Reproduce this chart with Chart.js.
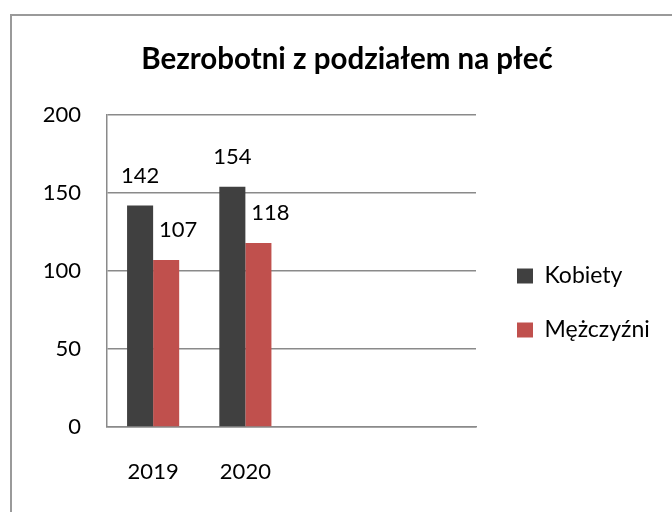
<!DOCTYPE html>
<html>
<head>
<meta charset="utf-8">
<script src="https://cdn.jsdelivr.net/npm/chart.js@4/dist/chart.umd.min.js"></script>
<style>
  html, body { margin: 0; padding: 0; background: #fff; overflow: hidden; }
  #wrap { position: relative; width: 672px; height: 512px; overflow: hidden; }
  #frame { position: absolute; left: 10px; top: 14px; width: 700px; height: 520px; border: 2px solid #9a9a9a; box-sizing: border-box; pointer-events: none; }
  canvas { position: absolute; left: 0; top: 0; }
</style>
</head>
<body>
<div id="wrap">
  <div id="frame"></div>
  <canvas id="c" width="694" height="512"></canvas>
</div>
<script>
const titleText = 'Bezrobotni z podziałem na płeć';
const categories = ['2019', '2020', '', ''];
const seriesNames = ['Kobiety', 'Mężczyźni'];
const kobiety = [142, 154, null, null];
const mezczyzni = [107, 118, null, null];
const yTicks = [0, 50, 100, 150, 200];

const FONT = 'Lato, "Open Sans", sans-serif';
const colors = ['#404040', '#C0504D'];

const dataLabels = {
  id: 'dataLabels',
  afterDatasetsDraw(chart) {
    const ctx = chart.ctx;
    ctx.save();
    ctx.font = '22px ' + FONT;
    ctx.fillStyle = '#000';
    ctx.textAlign = 'center';
    ctx.textBaseline = 'middle';
    const xOff = [0, 12];
    chart.data.datasets.forEach((ds, di) => {
      const meta = chart.getDatasetMeta(di);
      meta.data.forEach((bar, i) => {
        const v = ds.data[i];
        if (v === null || v === undefined) return;
        ctx.fillText(String(v), bar.x + xOff[di], bar.y - 30);
      });
    });
    ctx.restore();
  }
};

// legend box: fixed width so the plot area keeps the reference proportions,
// then nudged to the reference spot
const legendPlace = {
  id: 'legendPlace',
  beforeLayout(chart) {
    const lg = chart.legend;
    if (lg && !lg._fixedFit) {
      const orig = lg.fit;
      lg.fit = function () { orig.call(this); this.width = 208; };
      lg._fixedFit = true;
    }
  },
  afterLayout(chart) {
    const lg = chart.legend;
    if (!lg) return;
    const dx = 10, dy = 47;
    lg.left += dx; lg.right += dx; lg.top += dy; lg.bottom += dy;
  }
};

new Chart(document.getElementById('c'), {
  type: 'bar',
  data: {
    labels: categories,
    datasets: [
      { label: seriesNames[0], data: kobiety, backgroundColor: colors[0] },
      { label: seriesNames[1], data: mezczyzni, backgroundColor: colors[1] }
    ]
  },
  options: {
    responsive: false,
    animation: false,
    devicePixelRatio: 1,
    layout: { padding: { left: 10, right: 10, top: 0, bottom: 0 } },
    datasets: { bar: { categoryPercentage: 0.565, barPercentage: 1.0 } },
    plugins: {
      title: {
        display: true,
        text: titleText,
        color: '#000',
        font: { family: FONT, size: 29.5, weight: 'bold', lineHeight: 1.2 },
        padding: { top: 42, bottom: 37.6 }
      },
      legend: {
        display: true,
        position: 'right',
        labels: {
          color: '#000',
          font: { family: FONT, size: 23 },
          boxWidth: 16,
          boxHeight: 15,
          padding: 31
        }
      },
      tooltip: { enabled: false }
    },
    scales: {
      x: {
        afterFit(scale) { scale.height = 85; },
        grid: { display: false, drawTicks: false },
        border: { display: true, color: '#8a8a8a', width: 1.5 },
        ticks: { color: '#000', font: { family: FONT, size: 22 }, padding: 32, maxRotation: 0 }
      },
      y: {
        min: 0,
        max: 200,
        afterFit(scale) { scale.width = 97; },
        afterBuildTicks(scale) { scale.ticks = yTicks.map(v => ({ value: v })); },
        grid: { color: '#8a8a8a', lineWidth: 1.5, drawTicks: false },
        border: { display: true, color: '#8a8a8a', width: 1.5 },
        ticks: { color: '#000', font: { family: FONT, size: 22 }, padding: 26 }
      }
    }
  },
  plugins: [dataLabels, legendPlace]
});
</script>
</body>
</html>
